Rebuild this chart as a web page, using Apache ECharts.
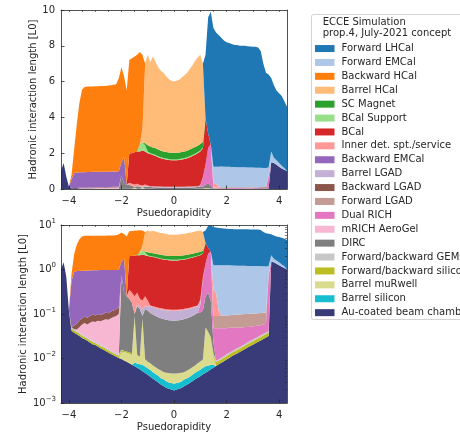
<!DOCTYPE html>
<html>
<head>
<meta charset="utf-8">
<script src="https://cdn.jsdelivr.net/npm/echarts@6/dist/echarts.min.js"></script>
<style>
  html, body { margin: 0; padding: 0; background: #fff; }
  #chart { width: 460px; height: 434px; }
</style>
</head>
<body>
<div id="chart"></div>
<script>
// Pseudorapidity sampling points
const eta = [-4.3,-4.2,-4.1,-4.0,-3.9,-3.8,-3.7,-3.6,-3.5,-3.4,-3.3,-3.2,-3.1,-3.0,
  -2.9,-2.8,-2.7,-2.6,-2.5,-2.4,-2.3,-2.2,-2.1,-2.0,-1.9,-1.8,-1.7,-1.6,-1.5,-1.4,
  -1.3,-1.2,-1.1,-1.0,-0.9,-0.8,-0.7,-0.6,-0.5,-0.4,-0.3,-0.2,-0.1,0,0.1,0.2,0.3,
  0.4,0.5,0.6,0.7,0.8,0.9,1.0,1.1,1.2,1.3,1.4,1.5,1.6,1.7,1.8,1.9,2.0,2.1,2.2,2.3,
  2.4,2.5,2.6,2.7,2.8,2.9,3.0,3.1,3.2,3.3,3.4,3.5,3.6,3.7,3.8,3.9,4.0,4.1,4.2,4.3];

// A detector only covers part of the eta range: zero outside its spans.
function place(...spans) {
  const out = eta.map(() => 0);
  spans.forEach(([start, vals]) => {
    const i0 = Math.round((start - eta[0]) * 10);
    vals.forEach((v, k) => { out[i0 + k] = v; });
  });
  return out;
}

// Interaction length per subsystem [L0]
const beamChamber = [1.0, 1.45, 0.7, 0.12,
  0.042, 0.038, 0.035, 0.032, 0.029, 0.027, 0.025, 0.023, 0.021, 0.020,
  0.0185, 0.017, 0.016, 0.0148, 0.0137, 0.0127, 0.0118, 0.011, 0.0103, 0.0097,
  0.009, 0.0084, 0.0078, 0.0072, 0.0067, 0.0062, 0.0057, 0.0052, 0.0047, 0.0043,
  0.0039, 0.0035, 0.0032, 0.0029, 0.0026, 0.0024, 0.0022, 0.0021, 0.002,
  0.0019,
  0.002, 0.0021, 0.0022, 0.0024, 0.0026, 0.0028, 0.0031, 0.0034, 0.0037, 0.004,
  0.0044, 0.0048, 0.0052, 0.0057, 0.0062, 0.0068, 0.0074, 0.008, 0.0087, 0.0095,
  0.0103, 0.0112, 0.0121, 0.013, 0.014, 0.0151, 0.0163, 0.0176, 0.019, 0.0205,
  0.022, 0.0237, 0.0255, 0.0275, 0.0297, 0.032, 1.5, 1.45, 1.35, 1.25,
  1.15, 1.08, 1.0];

const barrelSilicon = place([-1.5, [.0013,.0015,.0017,.002,.0019,.0017,.0016,.0014,.0013,.0012,
  .001,.001,.0009,.0008,.0008,.0008,.0008,.0008,.0009,.001,.001,.0011,.0012,.0014,.0015,
  .0016,.0018,.0019,.0017,.0015,.001]]);

const barrelMuRwell = place([-2.0, [.004,.005,.005,.005,.0048,.082,.0043,.0036,.073,.003,
  .0025,.0023,.0021,.0019,.0017,.0018,.0016,.0017,.0018,.0018,.0019,.0018,.0018,.0017,
  .0016,.0018,.0019,.0021,.0022,.0026,.003,.0033,.043,.033,.023,.004]]);

const fbSilicon = place(
  [-3.9, [.005,.0045,.0042,.0038,.0035,.0032,.003,.0028,.0025,.0024,.0022,.002,.0019,
    .0018,.0016,.0015,.0014,.0013,.0012,.0012,.001,.001,.001,.001]],
  [1.5, [.0012,.0014,.0015,.0016,.0017,.0019,.0021,.0022,.0024,.0026,.0028,.003,.0033,
    .0035,.0038,.0041,.0044,.0047,.0051,.0055,.0059,.0064]]);

const fbGEMs = place(
  [-3.9, [.0034,.003,.0028,.0026,.0023,.0022,.002,.0018,.0017,.0016,.0015,.0014,.0013,
    .0012,.0011,.001,.0009,.0009,.0008,.0008]],
  [1.5, [.0006,.0007,.0007,.0008,.0009,.001,.001,.0011,.0012,.0013,.0014,.0015,.0016,
    .0018,.0019,.002,.0022,.0024,.0026,.0028,.003,.0032]]);

const dirc = place([-2.0, [.734,.285,.2356,.2062,.167,.01,.138,.119,.01,.12,.1115,.0972,
  .09,.0836,.0792,.0746,.072,.0692,.0673,.0664,.0654,.0664,.0673,.0692,.072,.0746,.0792,
  .0836,.09,.0972,.1,.1105,.2,.26,.17,.01]]);

const mrichAerogel = place([-3.7, [.003,.012,.023,.030,.028,.036,.043,.042,.048,.048,
  .053,.058,.058,.065,.071,.077,.088]]);

const dualRich = place([1.0, [.05,.5,1.1,2.0,2.3,.025,.0391,.0384,.0376,.0367,.0356,
  .0356,.0345,.0333,.0331,.0318,.0304,.0298,.0281,.0273,.0264,.0254,.0242,.0228,.0222,
  .0214,.658]]);

const fwdLGAD = place([1.5, [.042,.042,.042,.043,.044,.045,.045,.046,.047,.047,.048,.049,
  .049,.049,.049,.049,.049,.049,.049,.048,.047,.05]]);

const bwdLGAD = place([-3.8, [.010,.015,.022,.022,.026,.024,.026,.030,.026,.030,.026,.028,
  .032,.030,.033,.035,.038,.040]]);

const barrelLGAD = place([-1.4, [.02,.02,.04,.02,.03,.045,.046,.047,.047,.048,.048,.048,
  .048,.048,.048,.048,.048,.048,.048,.048,.047,.047,.046,.045,.045,.045]]);

const bwdEMCal = place([-3.9, [.50,.825,.86,.858,.86,.852,.868,.86,.862,.868,.86,.876,.87,
  .862,.866,.867,.86,.852,.85,.75,1.5]]);

const innerDet = place([-1.7, [.13,.12,.15,.13,.07,.07,.1,.05,
  .006,.006,.006,.006,.006,.006,.006,.006,.006,.006,.006,.006,.006,.006,.006,.006,.006,
  .006,.006,.006,.01,0,0,0,.26,.21,.03]]);

const bcal = place([-1.7, [1.65,1.7,1.8,1.8,1.88,1.95,1.85,1.8,1.794,1.751,1.707,1.642,
  1.586,1.549,1.522,1.494,1.475,1.476,1.475,1.494,1.522,1.549,1.586,1.642,1.707,1.771,
  1.844,1.889,1.6,2.6,0.8]]);

const bcalSupport = place([-1.3, [.4,.45,.35,.1,.05,.05,.05,.05,.05,.05,.05,.05,.05,.05,
  .05,.05,.05,.05,.05,.05,.05,.05,.05,.05,.05]]);

const scMagnet = place([-1.2, [0,.1,.35,.37,.37,.37,.37,.37,.37,.37,.37,.37,.37,.37,.37,
  .37,.37,.37,.37,.37,.37,.37,.37,.3]]);

const barrelHCal = place([-1.2, [.8,4.35,5.05,4.73,5.08,4.83,4.6,4.46,4.4,4.23,4.11,4.03,
  3.98,4.03,4.06,4.18,4.25,4.36,4.5,4.63,4.81,4.93,4.98,4.37]]);

const bwdHCal = place([-3.9, [.25,1.32,2.68,3.87,4.61,4.76,4.77,4.77,4.77,4.78,4.78,4.78,
  4.79,4.79,4.81,4.82,4.84,4.87,5.21,5.3,4.5,5.25,5.2,5.3,5.35,5.4,5.15,4.1,.1]]);

const fwdEMCal = place([1.5, [.9,.95,1.13,1.16,1.15,1.15,1.15,1.14,1.13,1.12,1.12,1.11,
  1.11,1.10,1.10,1.10,1.09,1.09,1.08,1.07,1.06,.45,.6,.3,.25,.2,.15,.1]]);

const fwdLHCal = place([1.2, [3.55,6.5,7.4,7.75,7.5,7.35,7.2,7.06,6.96,6.91,6.87,6.82,
  6.83,6.78,6.79,6.79,6.78,6.76,6.75,6.76,6.71,6.52,5.82,5.33,5.2,4.1,4.05,3.9,3.9,
  3.9,3.72,3.6]]);

// Stack order, bottom first
const layers = [
  ['Au-coated beam chamber', '#393b79', beamChamber],
  ['Barrel silicon', '#17becf', barrelSilicon],
  ['Barrel muRwell', '#dbdb8d', barrelMuRwell],
  ['Forward/backward silicon', '#bcbd22', fbSilicon],
  ['Forward/backward GEMs', '#c7c7c7', fbGEMs],
  ['DIRC', '#7f7f7f', dirc],
  ['mRICH AeroGel', '#f7b6d2', mrichAerogel],
  ['Dual RICH', '#e377c2', dualRich],
  ['Forward LGAD', '#c49c94', fwdLGAD],
  ['Backward LGAD', '#8c564b', bwdLGAD],
  ['Barrel LGAD', '#c5b0d5', barrelLGAD],
  ['Backward EMCal', '#9467bd', bwdEMCal],
  ['Inner det. spt./service', '#ff9896', innerDet],
  ['BCal', '#d62728', bcal],
  ['BCal Support', '#98df8a', bcalSupport],
  ['SC Magnet', '#2ca02c', scMagnet],
  ['Barrel HCal', '#ffbb78', barrelHCal],
  ['Backward HCal', '#ff7f0e', bwdHCal],
  ['Forward EMCal', '#aec7e8', fwdEMCal],
  ['Forward LHCal', '#1f77b4', fwdLHCal]
];

const etaCats = eta.map(v => v.toFixed(1));
const isMajor = v => Math.abs(Math.round(+v) - +v) < 1e-6 && Math.round(+v) % 2 === 0;
const isMinor = v => Math.abs(Math.round(2 * +v) - 2 * +v) < 1e-6;
const yLinTicks = [0, 2, 4, 6, 8, 10];
const yLogTicks = [1e-3, 1e-2, 1e-1, 1, 10];
const yLogMinor = [];
[1e-3, 1e-2, 1e-1, 1].forEach(d => { for (let m = 2; m <= 9; m++) yLogMinor.push(+(m * d).toPrecision(3)); });

const FONT = 'DejaVu Sans';
const INK = '#262626';
const minus = v => (v < 0 ? '\u2212' : '') + Math.abs(v);

const gridBoxes = [
  { left: 61, top: 10, width: 226, height: 179 },
  { left: 61, top: 225, width: 226, height: 178 }
];

function xAxesFor(g) {
  const base = { gridIndex: g, type: 'category', data: etaCats, boundaryGap: false, z: 5,
    splitLine: { show: false } };
  return [
    Object.assign({}, base, {
      name: 'Psuedorapidity', nameLocation: 'middle', nameGap: 19,
      nameTextStyle: { fontFamily: FONT, fontSize: 10, color: INK },
      axisLine: { show: true, onZero: false, lineStyle: { color: INK, width: 0.8 } },
      axisTick: { show: true, inside: true, length: 3.5, interval: (i, v) => isMajor(v),
        lineStyle: { color: INK, width: 0.8 } },
      axisLabel: { show: true, interval: (i, v) => isMajor(v), formatter: v => minus(Math.round(+v)),
        margin: 7, fontFamily: FONT, fontSize: 10, color: INK }
    }),
    Object.assign({}, base, {
      axisLine: { show: false, onZero: false },
      axisTick: { show: true, inside: true, length: 2, interval: (i, v) => isMinor(v),
        lineStyle: { color: INK, width: 0.6 } },
      axisLabel: { show: false }
    }),
    Object.assign({}, base, {
      position: 'top',
      axisLine: { show: true, onZero: false, lineStyle: { color: INK, width: 0.8 } },
      axisTick: { show: false }, axisLabel: { show: false }
    })
  ];
}

const yName = {
  name: 'Hadronic interaction length [L0]', nameLocation: 'middle',
  nameTextStyle: { fontFamily: FONT, fontSize: 10, color: INK }
};

const yAxes = [
  Object.assign({}, yName, {
    gridIndex: 0, type: 'value', min: 0, max: 10, interval: 2, z: 5, nameGap: 22,
    axisLine: { show: true, lineStyle: { color: INK, width: 0.8 } },
    axisTick: { show: true, inside: true, length: 3.5, customValues: yLinTicks, lineStyle: { color: INK, width: 0.8 } },
    axisLabel: { show: true, customValues: yLinTicks, margin: 6, fontFamily: FONT, fontSize: 10, color: INK },
    splitLine: { show: false }
  }),
  {
    gridIndex: 0, type: 'value', min: 0, max: 10, position: 'right', z: 5,
    axisLine: { show: true, onZero: false, lineStyle: { color: INK, width: 0.8 } },
    axisTick: { show: false }, axisLabel: { show: false }, splitLine: { show: false }
  },
  Object.assign({}, yName, {
    gridIndex: 1, type: 'log', logBase: 10, min: 1e-3, max: 10, z: 5, nameGap: 33,
    axisLine: { show: true, onZero: false, lineStyle: { color: INK, width: 0.8 } },
    axisTick: { show: true, inside: true, length: 3.5, customValues: yLogTicks, lineStyle: { color: INK, width: 0.8 } },
    axisLabel: {
      show: true, customValues: yLogTicks, margin: 5,
      formatter: v => {
        const e = Math.round(Math.log10(v));
        return '{b|10}{e|' + minus(e) + '}';
      },
      rich: {
        b: { fontFamily: FONT, fontSize: 10, color: INK, lineHeight: 15 },
        e: { fontFamily: FONT, fontSize: 7, color: INK, lineHeight: 9, verticalAlign: 'top' }
      }
    },
    splitLine: { show: false }
  }),
  {
    gridIndex: 1, type: 'log', logBase: 10, min: 1e-3, max: 10, z: 5,
    axisLine: { show: false, onZero: false },
    axisTick: { show: true, inside: true, length: 2, customValues: yLogMinor, lineStyle: { color: INK, width: 0.6 } },
    axisLabel: { show: false }, splitLine: { show: false }
  },
  {
    gridIndex: 1, type: 'log', logBase: 10, min: 1e-3, max: 10, position: 'right', z: 5,
    axisLine: { show: true, onZero: false, lineStyle: { color: INK, width: 0.8 } },
    axisTick: { show: false }, axisLabel: { show: false }, splitLine: { show: false }
  }
];

const series = [];
[[0, 0, 'lin'], [3, 2, 'log']].forEach(([xi, yi, stackId]) => {
  layers.forEach(([name, color, vals]) => {
    series.push({
      name, type: 'line', xAxisIndex: xi, yAxisIndex: yi, stack: stackId,
      data: vals,
      showSymbol: false, symbol: 'none', smooth: false, silent: true,
      itemStyle: { color },
      lineStyle: { width: 0, opacity: 0 },
      areaStyle: { color, opacity: 1, origin: stackId === 'log' ? 1e-3 : 0 },
      emphasis: { disabled: true }
    });
  });
});

const legendOrder = layers.map(l => l[0]).reverse();

const chart = echarts.init(document.getElementById('chart'), null, { renderer: 'canvas' });
chart.setOption({
  animation: false,
  backgroundColor: '#fff',
  grid: gridBoxes.map(b => Object.assign({ containLabel: false, outerBoundsMode: 'none' }, b)),
  xAxis: [...xAxesFor(0), ...xAxesFor(1)],
  yAxis: yAxes,
  legend: {
    orient: 'vertical', left: 310, top: 36.6, z: 10,
    itemWidth: 19.5, itemHeight: 7, itemGap: 0, icon: 'rect',
    selectedMode: false,
    itemStyle: { borderWidth: 0 },
    textStyle: { fontFamily: FONT, fontSize: 10, color: INK, lineHeight: 13.9, padding: [0, 0, 0, 2] },
    data: legendOrder
  },
  graphic: [
    { type: 'rect', z: 1, shape: { x: 311.5, y: 14.5, width: 180, height: 305, r: 2 },
      style: { fill: '#fff', stroke: '#d4d4d4', lineWidth: 1 } },
    { type: 'text', z: 11, x: 322.7, y: 22.7,
      style: { text: 'ECCE Simulation', font: '10px "DejaVu Sans"', fill: INK, verticalAlign: 'middle' } },
    { type: 'text', z: 11, x: 322.7, y: 33.4,
      style: { text: 'prop.4, July-2021 concept', font: '10px "DejaVu Sans"', fill: INK, verticalAlign: 'middle' } }
  ],
  series
});
</script>
</body>
</html>
